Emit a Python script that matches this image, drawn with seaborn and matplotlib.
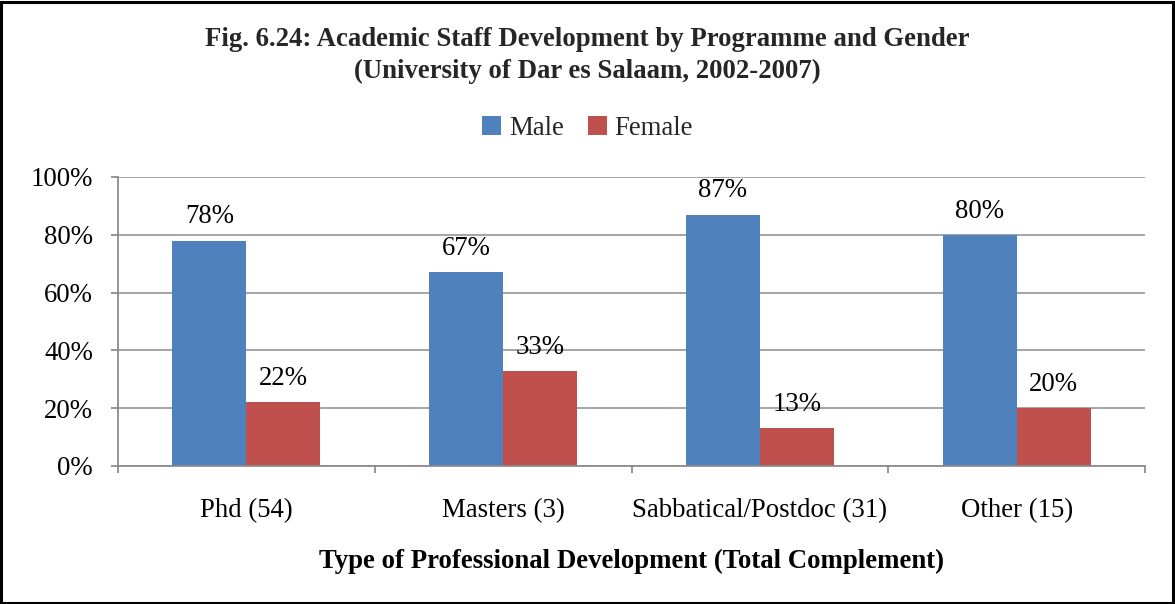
import matplotlib
matplotlib.use("Agg")
import matplotlib.pyplot as plt
import seaborn as sns
import pandas as pd
from matplotlib.patches import Rectangle
from matplotlib.ticker import FixedLocator, PercentFormatter

programmes = ["Phd (54)", "Masters (3)", "Sabbatical/Postdoc (31)", "Other (15)"]
genders = ["Male", "Female"]
male_pct = [78, 67, 87, 80]
female_pct = [22, 33, 13, 20]
colors = ["#4F81BD", "#C0504D"]

df = pd.DataFrame({
    "Programme": programmes * 2,
    "Gender": ["Male"] * len(programmes) + ["Female"] * len(programmes),
    "Percent": male_pct + female_pct,
})

sns.set_theme(style="white")
plt.rcParams["font.family"] = ["Liberation Serif", "DejaVu Serif"]
FS = 19.3

fig = plt.figure(figsize=(11.75, 6.04), dpi=100)
ax = fig.add_axes([0.1004, 0.2285, 0.8741, 0.4785])

sns.barplot(data=df, x="Programme", y="Percent", hue="Gender",
            hue_order=genders, palette=colors, width=0.576,
            saturation=1, ax=ax, legend=True, linewidth=0)

ax.set_xlim(-0.5, len(programmes) - 0.5)
ax.set_ylim(0, 100)
ax.yaxis.set_major_locator(FixedLocator([0, 20, 40, 60, 80, 100]))
ax.yaxis.set_major_formatter(PercentFormatter(decimals=0))
ax.grid(axis="y", color="#8C8C8C", linewidth=1.1)
ax.set_axisbelow(True)

for side in ["top", "right"]:
    ax.spines[side].set_visible(False)
for side in ["left", "bottom"]:
    ax.spines[side].set_color("#8C8C8C")
    ax.spines[side].set_linewidth(1.3)

ax.tick_params(axis="y", which="major", length=5, width=1.3, color="#8C8C8C",
               direction="out", left=True, labelsize=FS, pad=13, labelcolor="black")
ax.tick_params(axis="x", which="major", length=0, labelsize=FS, pad=23, labelcolor="black")
ax.xaxis.set_minor_locator(FixedLocator([i - 0.5 for i in range(len(programmes) + 1)]))
ax.tick_params(axis="x", which="minor", length=5, width=1.3, color="#8C8C8C",
               direction="out", bottom=True)

ax.set_ylabel("")
ax.set_xlabel("Type of Professional Development (Total Complement)",
              fontsize=FS, fontweight="bold", labelpad=19, color="black")

for cont in ax.containers:
    for bar in cont:
        h = bar.get_height()
        ax.annotate(f"{h:.0f}%", (bar.get_x() + bar.get_width() / 2, h),
                    xytext=(0, 8), textcoords="offset points",
                    ha="center", va="bottom", fontsize=FS, color="black")

handles, labels = ax.get_legend_handles_labels()
ax.legend_.remove()
fig.legend(handles, labels, loc="center", bbox_to_anchor=(0.5, 0.788),
           ncol=2, frameon=False, fontsize=FS, handlelength=0.7, handleheight=0.7,
           handletextpad=0.3, columnspacing=0.9)

fig.text(0.5, 0.934, "Fig. 6.24: Academic Staff Development by Programme and Gender",
         ha="center", va="center", fontsize=FS, fontweight="bold")
fig.text(0.5, 0.881, "(University of Dar es Salaam, 2002-2007)",
         ha="center", va="center", fontsize=FS, fontweight="bold")

fig.patches.append(Rectangle((0.001, 0.002), 0.997, 0.995, transform=fig.transFigure,
                             fill=False, edgecolor="black", linewidth=2.2))

fig.savefig("out.png", dpi=100, facecolor="white")
